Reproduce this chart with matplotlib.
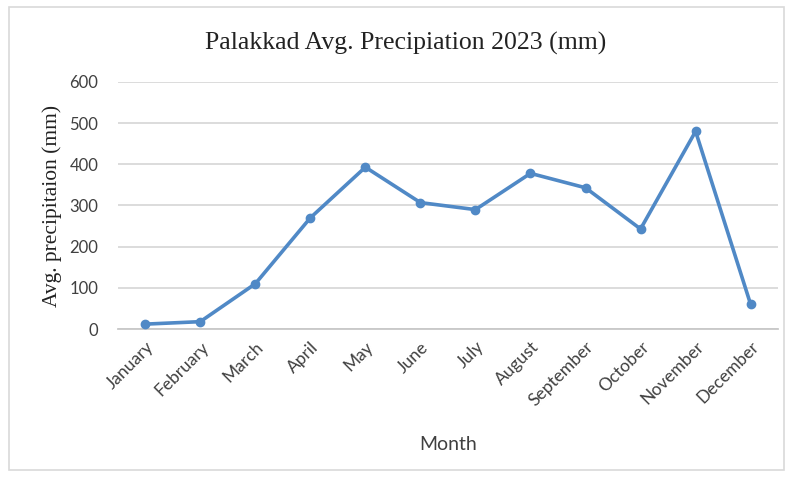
import matplotlib.pyplot as plt
from matplotlib.patches import Rectangle

months = ["January", "February", "March", "April", "May", "June",
          "July", "August", "September", "October", "November", "December"]
precip = [12, 18, 110, 270, 393, 307, 290, 378, 343, 243, 480, 60]
y_ticks = [0, 100, 200, 300, 400, 500, 600]

fig = plt.figure(figsize=(7.9, 4.79), dpi=100)
ax = fig.add_axes([0.149, 0.313, 0.836, 0.516])

x = list(range(len(months)))
ax.plot(x, precip, color="#5089c6", linewidth=2.6, marker="o",
        markersize=6, solid_joinstyle="round", zorder=3)

ax.set_xlim(-0.5, len(months) - 0.5)
ax.set_ylim(0, 600)
ax.set_yticks(y_ticks)
ax.set_xticks(x)
ax.set_xticklabels(months, rotation=45, ha="right", rotation_mode="anchor",
                   fontsize=12.5, color="#404040", family="Lato")
ax.tick_params(axis="y", labelsize=12, colors="#404040", length=0, pad=14)
ax.tick_params(axis="x", length=0, pad=7)
for lbl in ax.get_yticklabels():
    lbl.set_family("Lato")

ax.grid(axis="y", color="#d9d9d9", linewidth=1.3)
ax.set_axisbelow(True)
for s in ["top", "right", "left"]:
    ax.spines[s].set_visible(False)
ax.spines["bottom"].set_color("#c8c8c8")
ax.spines["bottom"].set_linewidth(1.3)

ax.set_ylabel("Avg. precipitaion (mm)", family="Liberation Serif",
              fontsize=15.5, color="#222222", labelpad=5)
ax.set_xlabel("Month", family="Lato", fontsize=14, color="#404040",
              labelpad=19)
fig.text(0.513, 0.91, "Palakkad Avg. Precipiation 2023 (mm)",
         family="Liberation Serif", fontsize=18.5, color="#222222",
         ha="center", va="center")

# light frame around the chart area
fig.patches.append(Rectangle((0.011, 0.018), 0.982, 0.968,
                             transform=fig.transFigure, fill=False,
                             edgecolor="#d9d9d9", linewidth=1.2))

fig.savefig("out.png", dpi=100)
